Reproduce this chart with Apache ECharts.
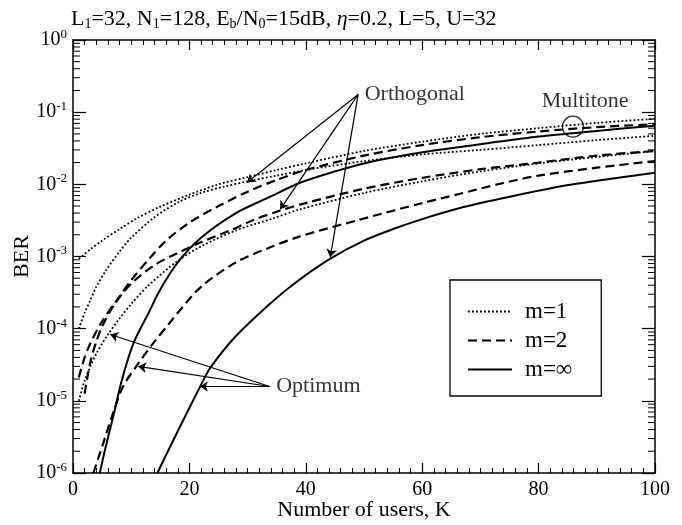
<!DOCTYPE html>
<html>

<head>
    <meta charset="utf-8">
    <title>BER vs number of users</title>
    <style>
        html, body { margin: 0; padding: 0; background: #fff; }
        #chart-container { width: 682px; height: 525px; }
    </style>
    <script src="https://cdn.jsdelivr.net/npm/echarts@6/dist/echarts.min.js"></script>
</head>

<body>
    <div id="chart-container"></div>
    <script>
        // values: number of users K and BER
        // Multitone
        var kMultiM1 = [1, 3, 5, 8, 11, 15, 20, 25, 30, 35, 40, 50, 60, 70, 80, 90, 100];
        var berMultiM1 = [9.3e-4, 1.26e-3, 1.66e-3, 2.4e-3, 3.4e-3, 4.9e-3, 7.2e-3, 1.0e-2, 1.26e-2, 1.58e-2, 1.95e-2, 2.9e-2, 3.9e-2, 5.0e-2, 6.0e-2, 7.1e-2, 8.1e-2];
        var kMultiM2 = [1, 2, 3, 5, 8, 10, 13, 16, 20, 25, 30, 35, 40, 50, 60, 70, 80, 90, 100];
        var berMultiM2 = [2.1e-5, 4.0e-5, 6.3e-5, 1.26e-4, 2.8e-4, 4.7e-4, 9.1e-4, 1.66e-3, 2.95e-3, 5.0e-3, 7.9e-3, 1.15e-2, 1.58e-2, 2.5e-2, 3.5e-2, 4.5e-2, 5.4e-2, 6.2e-2, 6.8e-2];
        var kMultiInf = [4.6, 5.5, 6.9, 8.4, 10.4, 13, 15, 18, 22, 28, 34, 39, 45, 50, 56, 62, 70, 80, 90, 100];
        var berMultiInf = [1.0e-6, 2.1e-6, 6.0e-6, 1.95e-5, 6.3e-5, 1.66e-4, 3.5e-4, 8.3e-4, 1.82e-3, 4.0e-3, 6.8e-3, 1.05e-2, 1.51e-2, 1.95e-2, 2.45e-2, 2.95e-2, 3.6e-2, 4.6e-2, 5.5e-2, 6.5e-2];
        // Orthogonal
        var kOrthM1 = [1, 2, 3, 4, 5.6, 8, 10, 14, 18, 22, 26, 30, 35, 40, 50, 60, 70, 80, 90, 100];
        var berOrthM1 = [1.0e-4, 1.66e-4, 2.5e-4, 3.8e-4, 6.3e-4, 1.17e-3, 1.82e-3, 3.5e-3, 5.6e-3, 7.6e-3, 9.3e-3, 1.1e-2, 1.32e-2, 1.58e-2, 2.1e-2, 2.6e-2, 3.0e-2, 3.5e-2, 4.1e-2, 4.7e-2];
        var kOrthM2 = [2, 3, 4, 5, 7, 10, 14, 18, 22, 27, 31, 35.5, 40, 50, 60, 70, 80, 90, 100];
        var berOrthM2 = [1.26e-5, 3.5e-5, 6.6e-5, 1.07e-4, 2.1e-4, 4.2e-4, 7.6e-4, 1.12e-3, 1.58e-3, 2.3e-3, 3.2e-3, 4.3e-3, 5.5e-3, 8.7e-3, 1.23e-2, 1.62e-2, 2.0e-2, 2.5e-2, 2.9e-2];
        // Optimum
        var kOptM1 = [1, 2, 4, 6, 8, 10, 13, 18, 22, 28, 34, 39, 50, 60, 70, 80, 90, 100];
        var berOptM1 = [1.0e-5, 1.9e-5, 4.5e-5, 8.3e-5, 1.38e-4, 2.2e-4, 4.0e-4, 8.7e-4, 1.38e-3, 2.3e-3, 3.3e-3, 4.5e-3, 7.6e-3, 1.1e-2, 1.51e-2, 1.95e-2, 2.4e-2, 2.9e-2];
        var kOptM2 = [3.5, 5.2, 6.9, 8.6, 11.1, 14, 16.6, 18, 22, 28, 34, 39, 49, 60, 66.5, 73.4, 80, 90, 100];
        var berOptM2 = [1.0e-6, 2.6e-6, 6.8e-6, 1.58e-5, 3.2e-5, 6.6e-5, 1.2e-4, 1.66e-4, 3.8e-4, 8.3e-4, 1.35e-3, 1.9e-3, 3.2e-3, 5.5e-3, 7.4e-3, 1.02e-2, 1.32e-2, 1.7e-2, 2.1e-2];
        // m=inf, shared by orthogonal and optimum
        var kInf = [14.5, 16, 18.4, 21.8, 23.5, 28, 33.8, 38, 44, 50, 55, 60, 66.5, 73.4, 83.6, 90, 100];
        var berInf = [1.0e-6, 1.78e-6, 4.4e-6, 1.55e-5, 2.8e-5, 7.9e-5, 2.2e-4, 4.2e-4, 9.1e-4, 1.66e-3, 2.4e-3, 3.3e-3, 4.7e-3, 6.3e-3, 9.3e-3, 1.12e-2, 1.45e-2];

        // annotations: label anchor and the curve points the arrows touch
        var orthAnchor = [49.0, 0.176];
        var orthTips = [[29.9, 1.06e-2], [35.6, 4.5e-3], [44.2, 9.8e-4]];
        var optAnchor = [33.8, 1.58e-5];
        var optTips = [[6.4, 8.3e-5], [11.2, 3.0e-5], [21.8, 1.58e-5]];
        var multiLabel = [88.0, 0.141];
        var multiCircle = [85.9, 0.063];

        var legendNames = ['m=1', 'm=2', 'm=\u221e'];

        var FONT = 'Liberation Serif';
        var dom = document.getElementById('chart-container');
        var myChart = echarts.init(dom, null, { renderer: 'canvas' });
        var option;

        function pairs(ks, bers) {
            return ks.map(function (k, i) { return [k, bers[i]]; });
        }

        // log minor ticks 2..9 in every decade
        var minorY = [];
        for (var e = -6; e < 0; e++) {
            for (var m = 2; m <= 9; m++) {
                minorY.push([0, m * Math.pow(10, e)]);
            }
        }

        var styles = {
            'm=1': { type: [1.8, 2.2], width: 1.8 },
            'm=2': { type: [9, 5], width: 2.2 },
            'm=\u221e': { type: 'solid', width: 2 }
        };

        function curve(name, ks, bers) {
            return {
                name: name,
                type: 'line',
                data: pairs(ks, bers),
                symbol: 'none',
                smooth: 0.3,
                lineStyle: { color: '#000', type: styles[name].type, width: styles[name].width },
                itemStyle: { color: '#000' },
                z: 3
            };
        }

        function arrows(anchor, tips) {
            return tips.map(function (t) { return { coords: [anchor, t] }; });
        }

        var axisCommon = {
            type: 'value',
            min: 0,
            max: 100,
            interval: 20,
            axisLine: { show: true, onZero: false, lineStyle: { color: '#000', width: 1.5 } },
            axisTick: { show: true, inside: true, length: 10, lineStyle: { color: '#000', width: 1.2 } },
            minorTick: { show: true, splitNumber: 10, length: 5, lineStyle: { color: '#000', width: 1 } },
            splitLine: { show: false }
        };

        var yCommon = {
            type: 'log',
            logBase: 10,
            min: 1e-6,
            max: 1,
            interval: 1,
            axisLine: { show: true, onZero: false, lineStyle: { color: '#000', width: 1.5 } },
            axisTick: { show: true, inside: true, length: 13, lineStyle: { color: '#000', width: 1.2 } },
            splitLine: { show: false }
        };

        option = {
            animation: false,
            backgroundColor: '#fff',
            title: {
                text: 'L{s|1}=32, N{s|1}=128, E{s|b}/N{s|0}=15dB, {i|\u03b7}=0.2, L=5, U=32',
                left: 66,
                top: 2,
                textStyle: {
                    fontFamily: FONT,
                    fontSize: 22,
                    fontWeight: 'normal',
                    color: '#000',
                    rich: {
                        s: { fontFamily: FONT, fontSize: 14, color: '#000', padding: [10, 0, 0, 0] },
                        i: { fontFamily: FONT, fontSize: 22, fontStyle: 'italic', color: '#000' }
                    }
                }
            },
            legend: {
                data: legendNames,
                orient: 'vertical',
                left: 450,
                top: 280,
                padding: [20, 29, 15, 17],
                itemGap: 6,
                itemWidth: 44,
                itemHeight: 22,
                borderColor: '#000',
                borderWidth: 1.3,
                backgroundColor: '#fff',
                selectedMode: false,
                itemStyle: { color: 'rgba(0,0,0,0)', borderColor: 'rgba(0,0,0,0)', borderWidth: 0 },
                textStyle: { fontFamily: FONT, fontSize: 23, color: '#000', padding: [0, 0, 0, 8] }
            },
            grid: { left: 73, right: 27, top: 40, bottom: 52, outerBoundsMode: 'none', containLabel: false },
            xAxis: [
                Object.assign({}, axisCommon, {
                    position: 'bottom',
                    name: 'Number of users, K',
                    nameLocation: 'middle',
                    nameGap: 26,
                    nameMoveOverlap: false,
                    nameTextStyle: { fontFamily: FONT, fontSize: 22, color: '#000' },
                    axisLabel: { fontFamily: FONT, fontSize: 20, color: '#000', margin: 7 }
                }),
                Object.assign({}, axisCommon, {
                    position: 'top',
                    axisLabel: { show: false }
                })
            ],
            yAxis: [
                Object.assign({}, yCommon, {
                    position: 'left',
                    name: 'BER',
                    nameLocation: 'middle',
                    nameGap: 40,
                    nameMoveOverlap: false,
                    nameTextStyle: { fontFamily: FONT, fontSize: 22, color: '#000' },
                    axisLabel: {
                        margin: 6,
                        formatter: function (v) {
                            var ex = Math.round(Math.log10(v));
                            return '{b|10}{e|' + ex + '}';
                        },
                        rich: {
                            b: { fontFamily: FONT, fontSize: 20, color: '#000' },
                            e: { fontFamily: FONT, fontSize: 13, color: '#000', padding: [0, 0, 11, 0] }
                        }
                    }
                }),
                Object.assign({}, yCommon, {
                    position: 'right',
                    axisLabel: { show: false }
                })
            ],
            series: [
                curve('m=1', kMultiM1, berMultiM1),
                curve('m=2', kMultiM2, berMultiM2),
                curve('m=\u221e', kMultiInf, berMultiInf),
                curve('m=1', kOrthM1, berOrthM1),
                curve('m=2', kOrthM2, berOrthM2),
                curve('m=1', kOptM1, berOptM1),
                curve('m=2', kOptM2, berOptM2),
                curve('m=\u221e', kInf, berInf),
                {
                    name: 'minor',
                    type: 'custom',
                    data: minorY,
                    silent: true,
                    renderItem: function (params, api) {
                        var v = api.value(1);
                        var pl = api.coord([0, v]);
                        var pr = api.coord([100, v]);
                        return {
                            type: 'group',
                            children: [
                                { type: 'line', shape: { x1: pl[0], y1: pl[1], x2: pl[0] + 7, y2: pl[1] }, style: { stroke: '#000', lineWidth: 1 } },
                                { type: 'line', shape: { x1: pr[0] - 7, y1: pr[1], x2: pr[0], y2: pr[1] }, style: { stroke: '#000', lineWidth: 1 } }
                            ]
                        };
                    }
                },
                {
                    name: 'arrows',
                    type: 'lines',
                    coordinateSystem: 'cartesian2d',
                    silent: true,
                    symbol: ['none', 'arrow'],
                    symbolSize: [0, 8],
                    lineStyle: { color: '#000', width: 1.2, opacity: 1 },
                    data: arrows(orthAnchor, orthTips).concat(arrows(optAnchor, optTips)),
                    z: 4
                },
                {
                    name: 'notes',
                    type: 'scatter',
                    silent: true,
                    symbolSize: 1,
                    itemStyle: { color: 'rgba(0,0,0,0)' },
                    label: {
                        show: true,
                        formatter: '{b}',
                        fontFamily: FONT,
                        fontSize: 22,
                        color: '#000'
                    },
                    data: [
                        { name: 'Orthogonal', value: orthAnchor, label: { position: 'right', distance: 6 } },
                        { name: 'Optimum', value: optAnchor, label: { position: 'right', distance: 6 } },
                        { name: 'Multitone', value: multiLabel, label: { position: 'inside' } }
                    ],
                    z: 5
                },
                {
                    name: 'circle',
                    type: 'scatter',
                    silent: true,
                    symbol: 'circle',
                    symbolSize: 21,
                    itemStyle: { color: 'rgba(0,0,0,0)', borderColor: '#000', borderWidth: 1.3 },
                    data: [multiCircle],
                    z: 5
                }
            ]
        };

        if (option && typeof option === 'object') {
            myChart.setOption(option);
        }

        window.addEventListener('resize', myChart.resize);
    </script>
</body>

</html>
